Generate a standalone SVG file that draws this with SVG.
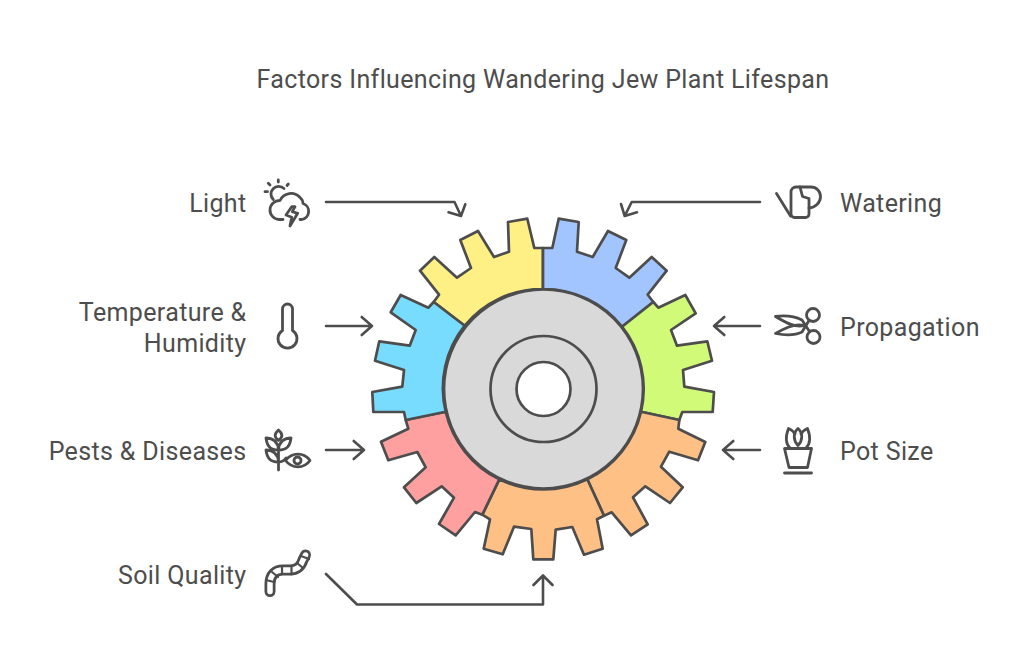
<svg xmlns="http://www.w3.org/2000/svg" width="1024" height="668" viewBox="0 0 1024 668">
<style>
text{font-family:Roboto,"Liberation Sans",sans-serif;font-size:25px;letter-spacing:.36px;fill:#4d4d4d}
.e{text-anchor:end}
.s{text-anchor:start}
.g{stroke:#4d4d4d;stroke-width:2.700;stroke-linejoin:round}
.c,.i{fill:none;stroke:#4d4d4d;stroke-linecap:round;stroke-linejoin:round}
.c{stroke-width:2.600}
.i{stroke-width:2.800}
</style>
<rect width="1024" height="668" fill="#fff"/>
<text x="543" y="87.500" text-anchor="middle" id="title">Factors Influencing Wandering Jew Plant Lifespan</text>
<g id="connectors" class="c">
<path d="M326 202H454.500L461 216M448.500 212.300L461 216L465.300 204.300"/>
<path d="M760 202H631.700L624.700 216M621 204L624.700 216L637 212.300"/>
<path d="M326 326H372M361.700 317L372 326L361.700 335"/>
<path d="M760 326H714M724.300 317L714 326L724.300 335"/>
<path d="M326 450H364M353.700 441L364 450L353.700 459"/>
<path d="M760 450H723M733.300 441L723 450L733.300 459"/>
<path d="M326 574L357 604.500H543V576M533.500 585L543 575.500L552.500 585"/>
</g>
<g id="gear">
<path id="seg-yellow" class="g" fill="#fff085" d="M543 289V248H534.300L527.300 218.700L508 222L509 251.700L494 257L478 231L460.300 240L471 268L457 277.700L434.300 257L420 270.700L439 294.700L433.700 302L464.700 325.700A100 100 0 0 1 543 289Z"/>
<path id="seg-blue" class="g" fill="#a2c4ff" d="M543 289V248H552.300L558.700 218.700L578.700 222L577 251.700L592.700 257L608 231L626.300 240L615.700 268L629.300 277.700L651.700 257L666.700 270.700L647.700 294.700L653.300 302L622 326.700A100 100 0 0 0 543 289Z"/>
<path id="seg-green" class="g" fill="#d1fa78" d="M622 326.700L653.300 302L658.300 307.700L685.300 295L695.700 313.300L671 330L677 345.700L707.300 341.300L712 360.700L683 370L684.300 386.700L714 392L712.700 412H682.300L679.300 420L641 411.700A100 100 0 0 0 622 326.700Z"/>
<path id="seg-orange-right" class="g" fill="#ffc085" d="M641 411.700L679.300 420L678.300 428.700L705.300 442L698 460.300L669.300 451.700L661 466.700L682.700 487.300L670 503L645.300 486.300L633 497.300L647.700 524.300L631 535.300L611.700 512.300L604 515.700L587.300 479.300A100 100 0 0 0 641 411.700Z"/>
<path id="seg-orange-bottom" class="g" fill="#ffc085" d="M587.300 479.300L604 515.700L597 519.300L602.700 548.700L584 554.700L572.300 527L555.700 529.700L553.300 559.300H533.300L531.300 529L514 526.700L502.700 554.300L483.700 548.700L490 519.300L482.300 514.700L499.300 479.300A100 100 0 0 0 587.300 479.300Z"/>
<path id="seg-red" class="g" fill="#ffa0a0" d="M499.300 479.300L482.300 514.700L475 512L455.700 535.300L439 524L454 497.700L441.700 486.300L416.300 503L404 487.300L425.700 467.300L417.300 452L388.300 460.300L381 441.700L408.300 428.700L405.700 420L445.700 411.700A100 100 0 0 0 499.300 479.300Z"/>
<path id="seg-cyan" class="g" fill="#78dcff" d="M445.700 411.700L405.700 420L404 412H373.300L372.300 392L402.300 386.700L404 370L375 360.700L379.300 341.300L409.700 345.700L415.700 330L390.700 312.300L400.700 295L428.300 307.700L433.700 302L464.700 325.700A100 100 0 0 0 445.700 411.700Z"/>
<circle id="hub" class="g" cx="543.500" cy="389" r="99.500" fill="#d9d9d9"/>
<circle id="hub-ring" class="g" cx="543.500" cy="389" r="53" fill="#d9d9d9"/>
<circle id="hub-hole" class="g" cx="543.500" cy="389" r="27" fill="#fff"/>
</g>
<g id="node-light">
<text x="246.500" y="211.700" class="e">Light</text>
<g class="i">
<path d="M283 219.500H279A9.500 9.500 0 0 1 280 200.500A12 12 0 0 1 300 197.500A8 8 0 0 1 303 203.500A8.300 8.300 0 0 1 302 219.500H300"/>
<path d="M273.300 199.500A7.500 7.500 0 0 1 284 188.500M278.300 180V182M268.300 183.300L270 185M288.300 184L287 185.500M265 191.700H267.500"/>
<path d="M291.700 206.700L286 215L291.700 217.300L290 226L297.700 213.300L292.300 211.700L295 206.700Z"/>
</g>
</g>
<g id="node-temperature">
<text x="246.500" y="320.500" class="e">Temperature &amp;</text>
<text x="246.500" y="351.500" class="e">Humidity</text>
<path class="i" d="M282.500 330.500V309A5 5 0 0 1 292.500 309V330.500A9.500 9.500 0 1 1 282.500 330.500Z"/>
</g>
<g id="node-pests">
<text x="246.500" y="459.700" class="e">Pests &amp; Diseases</text>
<g class="i">
<path d="M278.500 450V470M278.500 440.500C274 437 274 434 278.500 430C283 434 283 437 278.500 440.500ZM278.500 450C270 450 267 446 266 438C272 438 278 441 278.500 450ZM278.500 450C287 450 290 446 291 438C285 438 279 441 278.500 450ZM278.500 462C270 462 267 458 266 450C272 450 278 453 278.500 462ZM278.500 462C282 462 284 461 286 458"/>
<path d="M285.500 460.500C292 452 304 452 310 460.500C304 469 292 469 285.500 460.500Z"/>
<circle cx="297.500" cy="460.500" r="3.500"/>
</g>
</g>
<g id="node-soil">
<text x="246.500" y="583.500" class="e">Soil Quality</text>
<g fill="none" stroke-linecap="round" stroke-linejoin="round">
<path d="M270 591.500V584C270 575 275 570 283 570H290C298 570 301 566 303 560L305.500 555" stroke="#4d4d4d" stroke-width="11"/>
<path d="M270 591.500V584C270 575 275 570 283 570H290C298 570 301 566 303 560L305.500 555" stroke="#fff" stroke-width="5.500"/>
<path d="M266 580L274 582M272 572L278 577M282 566V574M291.500 566V574.500M297 563L303 568M301 556L309 559" stroke="#4d4d4d" stroke-width="2.200"/>
</g>
</g>
<g id="node-watering">
<text x="840" y="211.700" class="s">Watering</text>
<g class="i">
<path d="M776.500 193.500L790.500 216"/>
<path d="M791 192V214A3.500 3.500 0 0 0 794.500 217.500H805.500A3.500 3.500 0 0 0 809 214V198.500L802.500 196.500L800 187H796A5 5 0 0 0 791 192Z"/>
<path d="M800 187H811A9.500 9.500 0 0 1 820.500 196.500C820.500 203 815 207.500 809 208"/>
</g>
</g>
<g id="node-propagation">
<text x="840" y="335.700" class="s">Propagation</text>
<g class="i">
<circle cx="813" cy="315" r="6.500"/>
<circle cx="813.500" cy="337" r="6.500"/>
<path d="M809 320.500L802 332C794 336 783 335 775.500 333.500C785 328 795 323 804 325.500"/>
<path d="M809.500 331.500L802 320C794 316 783 315.500 775.500 316.500C785 322 795 328 804 325.500"/>
</g>
</g>
<g id="node-pot">
<text x="840" y="459.700" class="s">Pot Size</text>
<g class="i">
<path d="M784.500 448.500H811.500L807.500 467.500H789Z"/>
<path d="M784.500 473H811.500"/>
<path d="M798 428.500C793 433 793 440 798 445.500C803 440 803 433 798 428.500Z"/>
<path d="M790 448C785 443 786 435 788.500 428.500C792 430 794 432 795 434M806 448C811 443 810 435 807.500 428.500C804 430 802 432 801 434"/>
</g>
</g>
</svg>
